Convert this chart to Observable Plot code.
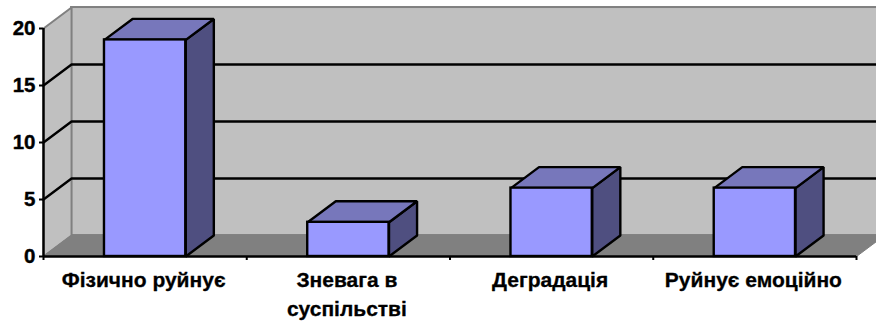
<!DOCTYPE html>
<html>
<head>
<meta charset="utf-8">
<script src="https://cdn.jsdelivr.net/npm/d3@7"></script>
<script src="https://cdn.jsdelivr.net/npm/@observablehq/plot@0.6"></script>
<style>
html,body{margin:0;padding:0;background:#fff;overflow:hidden}
</style>
</head>
<body>
<div id="chart"></div>
<script>
const categories = ["Фізично руйнує", "Зневага в\nсуспільстві", "Деградація", "Руйнує емоційно"];
const values = [19, 3, 6, 6];
const gridValues = [5, 10, 15];
const yTicks = [0, 5, 10, 15, 20];

// Oblique projection of the 3-D depth, in data units
const depthX = 0.138;
const depthY = 1.84;
const barWidth = 0.4;
const yMax = 20;
const n = categories.length;

const poly = (id, pts) => pts.map(([x, y]) => ({id, x, y}));
const idx = categories.map((_, i) => i);

const leftWall = poly("left", [[0,0],[depthX,depthY],[depthX,yMax+depthY],[0,yMax]]);
const floor = poly("floor", [[0,0],[n,0],[n+depthX,depthY],[depthX,depthY]]);
const grid = gridValues.flatMap(v => poly("g"+v, [[0,v],[depthX,v+depthY],[n+depthX+0.1,v+depthY]]));

const x0 = i => i + 0.5 - barWidth/2;
const x1 = i => i + 0.5 + barWidth/2;
const topFaces = idx.flatMap(i => poly("t"+i, [[x0(i),values[i]],[x1(i),values[i]],[x1(i)+depthX,values[i]+depthY],[x0(i)+depthX,values[i]+depthY]]));
const sideFaces = idx.flatMap(i => poly("s"+i, [[x1(i),0],[x1(i)+depthX,depthY],[x1(i)+depthX,values[i]+depthY],[x1(i),values[i]]]));

const polygon = (data, fill, stroke, strokeWidth) => Plot.line(data, {x:"x", y:"y", z:"id", fill, stroke, strokeWidth, curve:"linear-closed", strokeLinejoin:"miter"});

const chart = Plot.plot({
  width: 876,
  height: 323,
  marginLeft: 43,
  marginRight: 20,
  marginTop: 28,
  marginBottom: 67,
  style: {fontFamily: "'Liberation Sans', Arial, sans-serif", background: "#fff", color: "#000", overflow: "visible"},
  x: {type: "linear", domain: [0, n]},
  y: {type: "linear", domain: [0, yMax]},
  marks: [
    Plot.rect([0], {x1: depthX, x2: n + depthX + 0.1, y1: depthY, y2: yMax + depthY, fill: "#c0c0c0", stroke: "#808080", strokeWidth: 2}),
    polygon(leftWall, "#c0c0c0", "#808080", 2),
    polygon(floor, "#808080", "#808080", 1),
    Plot.line(grid, {x:"x", y:"y", z:"id", stroke:"#000", strokeWidth:2.4}),
    polygon(sideFaces, "#4f4f80", "#000", 2.4),
    polygon(topFaces, "#7777bb", "#000", 2.4),
    Plot.rect(idx, {x1: x0, x2: x1, y1: 0, y2: i => values[i], fill: "#9999ff", stroke: "#000", strokeWidth: 2.4}),
    Plot.ruleY([0], {stroke:"#000", strokeWidth:2.4}),
    Plot.ruleX([0], {y1:0, y2:yMax, stroke:"#000", strokeWidth:2.4}),
    Plot.axisY({ticks: yTicks, tickSize: 4, tickPadding: 4, strokeWidth: 2, fontSize: 20.5, fontWeight: "bold", fill: "#000", label: null, textStroke: "#000", textStrokeWidth: 0.4}),
    Plot.axisX({ticks: d3.range(n + 1), tickSize: 4, tickFormat: () => "", strokeWidth: 2, label: null}),
    Plot.text(categories, {x: (d, i) => i + 0.5, y: 0, text: d => d, dx: -1.5, dy: 10, lineAnchor: "top", lineHeight: 1.38, fontSize: 21, fontWeight: "bold", fill: "#000", stroke: "#000", strokeWidth: 0.3})
  ]
});
document.getElementById("chart").appendChild(chart);
</script>
</body>
</html>
